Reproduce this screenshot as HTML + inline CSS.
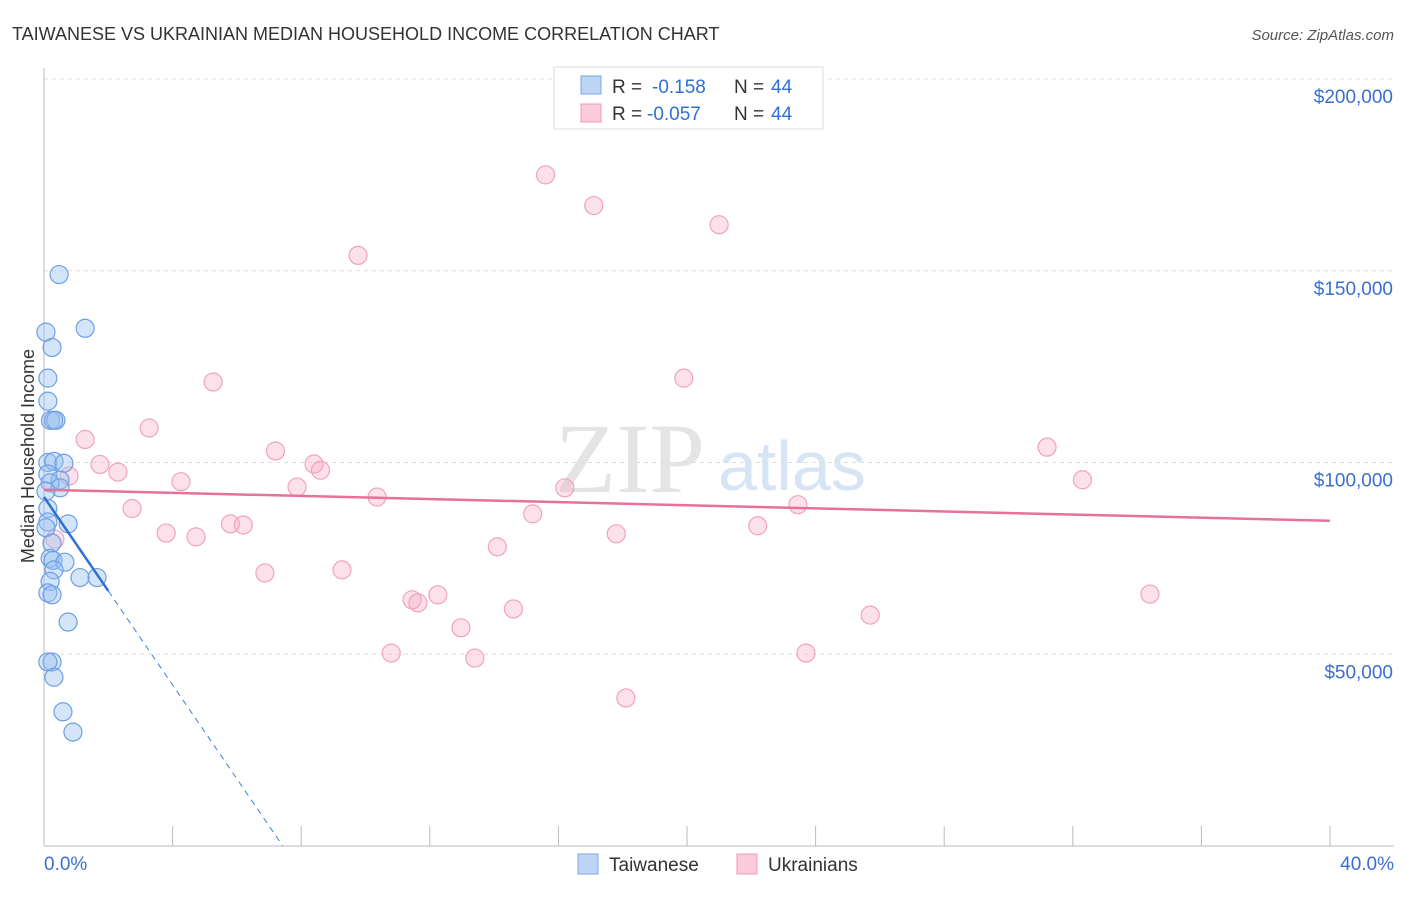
<!DOCTYPE html>
<html><head><meta charset="utf-8">
<style>
body{margin:0;background:#fff;font-family:"Liberation Sans",sans-serif;}
</style></head>
<body>
<svg id="chart" width="1406" height="892" viewBox="0 0 1406 892" style="font-family:'Liberation Sans',sans-serif">
<text x="12" y="40" font-size="18" fill="#333">TAIWANESE VS UKRAINIAN MEDIAN HOUSEHOLD INCOME CORRELATION CHART</text>
<text x="1394" y="40" font-size="15" fill="#555" font-style="italic" text-anchor="end">Source: ZipAtlas.com</text>
<g>
<text x="555" y="492" font-size="100" fill="#e4e4e4" style="font-family:'Liberation Serif',serif">ZIP</text>
<text x="718" y="490" font-size="70" fill="#d6e4f5">atlas</text>
</g>
<g id="grid"></g>
<g id="axes"></g>
<g id="pts"></g>
<g id="trend"></g>
<text x="34" y="456" font-size="18" fill="#333" text-anchor="middle" transform="rotate(-90 34 456)">Median Household Income</text>
<g>
<rect x="554" y="67" width="269" height="62" fill="#fff" stroke="#ddd"/>
<rect x="581" y="76" width="20" height="18" fill="#bcd5f5" stroke="#7aa7e6"/>
<rect x="581" y="104" width="20" height="18" fill="#fbcbd9" stroke="#ef9ab5"/>
<text x="612" y="93" font-size="19" fill="#333">R =</text>
<text x="652" y="93" font-size="19" fill="#2f6fd6">-0.158</text>
<text x="734" y="93" font-size="19" fill="#333">N =</text>
<text x="771" y="93" font-size="19" fill="#2f6fd6">44</text>
<text x="612" y="120" font-size="19" fill="#333">R =</text>
<text x="647" y="120" font-size="19" fill="#2f6fd6">-0.057</text>
<text x="734" y="120" font-size="19" fill="#333">N =</text>
<text x="771" y="120" font-size="19" fill="#2f6fd6">44</text>
</g>
<g>
<rect x="578" y="854" width="20" height="20" fill="#bcd5f5" stroke="#7aa7e6"/>
<text x="609" y="871" font-size="19" fill="#333">Taiwanese</text>
<rect x="737" y="854" width="20" height="20" fill="#fbcbd9" stroke="#ef9ab5"/>
<text x="768" y="871" font-size="19" fill="#333">Ukrainians</text>
</g>
</svg>
<script>
const yTicks=[50,100,150,200];
const yTickLabels=["$50,000","$100,000","$150,000","$200,000"];
const xTickCount=10;
const twX=[0.47,1.28,0.06,0.25,0.12,0.12,0.2,0.37,0.3,0.12,0.31,0.62,0.12,0.5,0.19,0.5,0.06,0.12,0.75,0.12,0.06,0.25,0.19,0.28,0.65,0.31,1.12,1.65,0.19,0.12,0.25,0.75,0.25,0.12,0.31,0.59,0.9];
const twY=[149,135,134,130,122,116,111,111,111,100,100.3,99.8,97,95.4,94.7,93.4,92.5,88,84,84.5,83,79,75,74.5,74,72,70,70,69,66,65.5,58.4,48,48,44,35,29.7];
const ukX=[15.6,17.1,21.0,9.77,5.26,19.9,3.27,1.28,7.2,31.2,1.74,2.3,8.4,8.6,0.78,4.26,7.87,32.3,16.2,10.36,2.74,23.45,15.2,5.8,6.2,22.2,3.8,4.73,17.8,0.34,14.1,6.87,9.27,12.25,11.45,11.63,34.4,14.6,25.7,12.97,10.8,13.4,23.7,18.1];
const ukY=[175,167,162,154,121,122,109,106,103,104,99.5,97.5,99.6,98,96.5,95,93.6,95.5,93.4,91,88,89,86.6,84,83.7,83.5,81.6,80.6,81.4,80,78,71.2,72,65.5,64.2,63.4,65.7,61.8,60.2,56.9,50.3,49,50.3,38.6];
const twTrend=[91,66.5];
const twTrendEndX=2;
const ukTrend=[92.9,84.8];
const NS="http://www.w3.org/2000/svg";
const X0=44,X1=1330,Y0=846,Y200=79;
const xs=v=>X0+v/40*(X1-X0);
const ys=v=>Y0-v/200*(Y0-Y200);
function mk(tag,attrs,parent){const e=document.createElementNS(NS,tag);for(const k in attrs)e.setAttribute(k,attrs[k]);parent.appendChild(e);return e;}
const grid=document.getElementById('grid'),axes=document.getElementById('axes');
yTicks.forEach((t,i)=>{
 const l=mk('line',{x1:X0,x2:1394,y1:ys(t),y2:ys(t),stroke:'#ddd','stroke-dasharray':'4,4'},grid);
 
 
 const tx=mk('text',{x:1393,y:ys(t)+24,'font-size':19,fill:'#3a6fd0','text-anchor':'end'},axes);
 tx.textContent=yTickLabels[i];
 
 
});
const topGrid=mk('line',{x1:X0,x2:1394,y1:ys(200),y2:ys(200),stroke:'#ddd','stroke-dasharray':'4,4'},grid);


const ya=mk('line',{x1:X0,x2:X0,y1:68,y2:Y0,stroke:'#bbb'},axes);


const xa=mk('line',{x1:X0,x2:1394,y1:Y0,y2:Y0,stroke:'#bbb'},axes);


for(let i=1;i<=xTickCount;i++){
 const x=xs(i*4);
 const tk=mk('line',{x1:x,x2:x,y1:826,y2:Y0,stroke:'#bbb'},axes);
 
 
}
const xl=mk('text',{x:44,y:870,'font-size':19,fill:'#3a6fd0'},axes);xl.textContent='0.0%';


const xr=mk('text',{x:1394,y:870,'font-size':19,fill:'#3a6fd0','text-anchor':'end'},axes);xr.textContent='40.0%';


const pts=document.getElementById('pts');
ukX.forEach((v,i)=>{
 const c=mk('circle',{cx:xs(v),cy:ys(ukY[i]),r:9,fill:'rgba(246,170,195,0.35)',stroke:'#f0a3bb','stroke-width':1.2},pts);
 
 
});
twX.forEach((v,i)=>{
 const c=mk('circle',{cx:xs(v),cy:ys(twY[i]),r:9,fill:'rgba(150,190,240,0.4)',stroke:'#6d9fe4','stroke-width':1.2},pts);
 
 
});
const tr=document.getElementById('trend');
const slope=(twTrend[1]-twTrend[0])/twTrendEndX;
const zeroX=-twTrend[0]/slope;
const d1=mk('line',{x1:xs(twTrendEndX),y1:ys(twTrend[1]),x2:xs(zeroX),y2:ys(0),stroke:'#3f7fdc','stroke-width':1,'stroke-dasharray':'6,5'},tr);


const s1=mk('line',{x1:xs(0),y1:ys(twTrend[0]),x2:xs(twTrendEndX),y2:ys(twTrend[1]),stroke:'#2f6fd6','stroke-width':2.5},tr);


const s2=mk('line',{x1:xs(0),y1:ys(ukTrend[0]),x2:xs(40),y2:ys(ukTrend[1]),stroke:'#e8719a','stroke-width':2.5},tr);


</script>
</body></html>
